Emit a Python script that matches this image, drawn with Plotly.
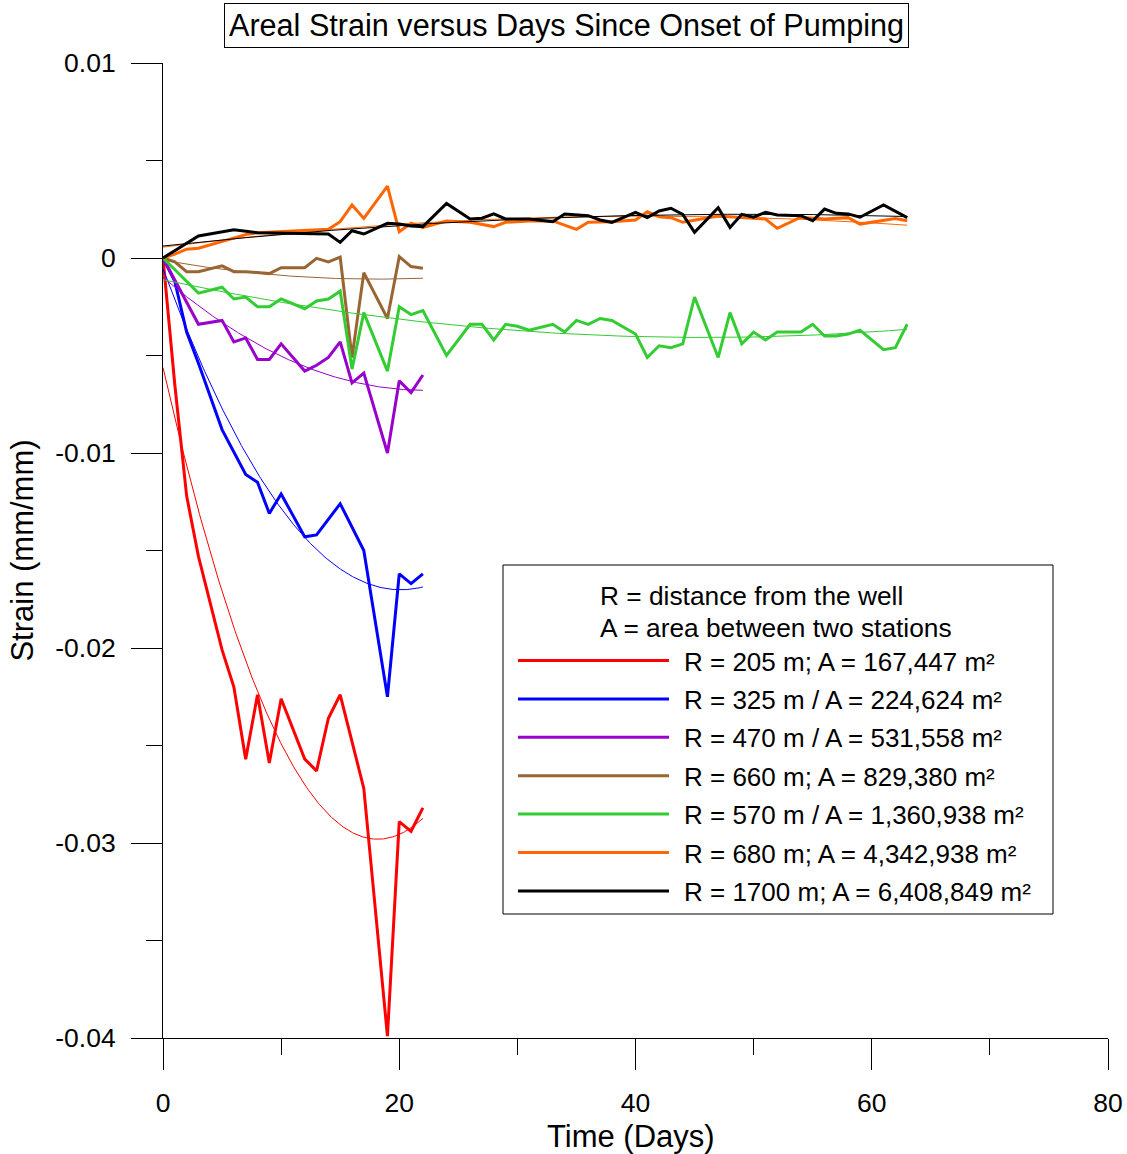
import numpy as np
import plotly.graph_objects as go

# ---- Areal strain records (mm/mm) by days since pumping began ----
red_days = [0, 1, 2, 3, 5, 6, 7, 8, 9, 10, 12, 13, 14, 15, 17, 19, 20, 21, 22]
red_strain = [0, -0.0065, -0.0122, -0.0153, -0.0201, -0.0220, -0.0257, -0.0224, -0.0259, -0.0226,
              -0.0257, -0.0263, -0.0236, -0.0224, -0.0272, -0.0399, -0.0289, -0.0294, -0.0282]

blue_days = [0, 1, 2, 3, 5, 7, 8, 9, 10, 12, 13, 15, 17, 19, 20, 21, 22]
blue_strain = [0, -0.0012, -0.0038, -0.0054, -0.0088, -0.0111, -0.0115, -0.0131, -0.0121,
               -0.0143, -0.0142, -0.0126, -0.0150, -0.0225, -0.0162, -0.0167, -0.0162]

purple_days = [0, 3, 5, 6, 7, 8, 9, 10, 12, 13, 14, 15, 16, 17, 19, 20, 21, 22]
purple_strain = [0, -0.0034, -0.0032, -0.0043, -0.0041, -0.0052, -0.0052, -0.0044, -0.0058,
                 -0.0055, -0.0051, -0.0043, -0.0064, -0.0059, -0.0100, -0.0063, -0.0069, -0.0060]

brown_days = [0, 1, 2, 3, 5, 6, 7, 9, 10, 12, 13, 14, 15, 16, 17, 19, 20, 21, 22]
brown_strain = [0, -0.0002, -0.0007, -0.0007, -0.0004, -0.0007, -0.0007, -0.0008, -0.0005,
                -0.0005, -0.00002, -0.0002, 0.00004, -0.0051, -0.00075, -0.0031, 0.00007,
                -0.00044, -0.00053]

green_days = [0, 1, 2, 3, 5, 6, 7, 8, 9, 10, 12, 13, 14, 15, 16, 17, 19, 20, 21, 22,
              24, 26, 27, 28, 29, 30, 31, 33, 34, 35, 36, 37, 38, 40, 41, 42, 43, 44, 45,
              47, 48, 49, 50, 51, 52, 54, 55, 56, 57, 58, 59, 61, 62, 63]
green_strain = [0, -0.0006, -0.0012, -0.0018, -0.0015, -0.0021, -0.0020, -0.0025, -0.0025, -0.0021,
                -0.0026, -0.0022, -0.0021, -0.0017, -0.0057, -0.0028,
                -0.0058, -0.0025, -0.0029, -0.0027,
                -0.0050, -0.0034, -0.0034, -0.0042, -0.0034, -0.0035, -0.0037,
                -0.0034, -0.0038, -0.0032, -0.0034, -0.0031, -0.0032,
                -0.0039, -0.0051, -0.0045, -0.0046, -0.0044, -0.0020,
                -0.0051, -0.0028, -0.0044, -0.0038, -0.0042, -0.0038,
                -0.0038, -0.0034, -0.0040, -0.0040, -0.0039, -0.0037,
                -0.0047, -0.0046, -0.0034]

orange_days = [0, 1, 2, 3, 7, 8, 14, 15, 16, 17, 19, 20, 21, 22, 24, 26, 28, 29, 31, 33, 35, 36,
               38, 40, 41, 42, 43, 44, 47, 49, 51, 52, 54, 56, 58, 59, 61, 62, 63]
orange_strain = [0, 0.0002, 0.00045, 0.0005, 0.0012, 0.0013,
                 0.00147, 0.00186, 0.00272, 0.00203,
                 0.00369, 0.00135, 0.00178, 0.00157,
                 0.0019, 0.00183, 0.00161, 0.00183, 0.0019, 0.0019, 0.00147, 0.00183, 0.00186,
                 0.00195, 0.00237, 0.00212, 0.00207, 0.00183,
                 0.00215, 0.00207, 0.0020, 0.00152, 0.00209, 0.0020, 0.00207, 0.00174,
                 0.00195, 0.00203, 0.00191]

black_days = [0, 3, 6, 8, 14, 15, 16, 17, 19, 20, 21, 22, 24, 26, 27, 28, 29, 31, 33, 34, 36, 37,
              38, 40, 41, 42, 43, 44, 45, 47, 48, 49, 50, 51, 52, 54, 55, 56, 57, 58, 59, 61, 63]
black_strain = [0, 0.00113, 0.00145, 0.0013,
                0.00123, 0.0008, 0.0014, 0.00123,
                0.00178, 0.00174, 0.00164, 0.00161,
                0.0028, 0.0020, 0.00204, 0.00226, 0.0020, 0.0020,
                0.00186, 0.00226, 0.00217, 0.00195, 0.00183,
                0.00234, 0.00207, 0.00241, 0.00255, 0.00224, 0.00132,
                0.00258, 0.00157, 0.00224, 0.00209, 0.00234, 0.00221,
                0.00217, 0.00191, 0.00251, 0.00229, 0.00226, 0.00209,
                0.00272, 0.00207]

station_labels = [
    "R = 205 m; A = 167,447 m²",
    "R = 325 m / A = 224,624 m²",
    "R = 470 m / A = 531,558 m²",
    "R = 660 m; A = 829,380 m²",
    "R = 570 m / A = 1,360,938 m²",
    "R = 680 m; A = 4,342,938 m²",
    "R = 1700 m; A = 6,408,849 m²",
]
legend_header = ["R = distance from the well", "A = area between two stations"]

x_ticks = [0, 20, 40, 60, 80]
y_ticks = [0.01, 0, -0.01, -0.02, -0.03, -0.04]
y_tick_text = ["0.01", "0", "-0.01", "-0.02", "-0.03", "-0.04"]

colors = ["#FF0000", "#0000FF", "#9900CC", "#996633", "#33CC33", "#FF6600", "#000000"]
records = [
    (red_days, red_strain),
    (blue_days, blue_strain),
    (purple_days, purple_strain),
    (brown_days, brown_strain),
    (green_days, green_strain),
    (orange_days, orange_strain),
    (black_days, black_strain),
]

FONT = "Liberation Sans, Arial, sans-serif"
W, H = 1127, 1154
L, R, T, B = 163, 1108, 63, 1038  # plot area in pixels


def px(x):
    return (x - L) / (R - L)


def py(y):
    return (B - y) / (B - T)


fig = go.Figure()

for (days, strain), color, label in zip(records, colors, station_labels):
    d = np.asarray(days, dtype=float)
    s = np.asarray(strain, dtype=float)
    # second-order polynomial trend through each station's record
    coef = np.polyfit(d, s, 2)
    tt = np.linspace(0, d.max(), 200)
    fig.add_trace(go.Scatter(x=d, y=s, mode="lines", line=dict(color=color, width=3),
                             name=label, showlegend=False))
    fig.add_trace(go.Scatter(x=tt, y=np.polyval(coef, tt), mode="lines",
                             line=dict(color=color, width=1), showlegend=False,
                             hoverinfo="skip"))

axis_common = dict(
    showline=True, linecolor="black", linewidth=1,
    ticks="outside", ticklen=31, tickwidth=1, tickcolor="black",
    showgrid=False, zeroline=False, automargin=False,
    tickfont=dict(family=FONT, size=26.5, color="black"),
)

fig.update_xaxes(
    range=[0, 80], tickvals=x_ticks, ticktext=[str(v) for v in x_ticks],
    minor=dict(ticks="outside", ticklen=16, tickwidth=1, tickcolor="black", dtick=10, tick0=0),
    ticklabelstandoff=10,
    **axis_common,
)
fig.update_yaxes(
    range=[-0.04, 0.01], tickvals=y_ticks, ticktext=y_tick_text,
    minor=dict(ticks="outside", ticklen=16, tickwidth=1, tickcolor="black", dtick=0.005, tick0=0),
    title=dict(text="Strain (mm/mm)", font=dict(family=FONT, size=31, color="black"), standoff=12),
    ticklabelstandoff=10,
    **axis_common,
)

annotations = [
    dict(text="Areal Strain versus Days Since Onset of Pumping", xref="paper", yref="paper",
         x=px(566), y=py(25.5), xanchor="center", yanchor="middle", showarrow=False,
         font=dict(family=FONT, size=30.6, color="black"),
         bordercolor="black", borderwidth=1, borderpad=4, bgcolor="white"),
    # x-axis title, centred under the tick labels
    dict(text="Time (Days)", xref="paper", yref="paper", x=px(630.5), y=py(1136),
         xanchor="center", yanchor="middle", showarrow=False,
         font=dict(family=FONT, size=31, color="black")),
]

shapes = [
    dict(type="rect", xref="paper", yref="paper", x0=px(503), x1=px(1053), y0=py(914), y1=py(565),
         line=dict(color="black", width=1), fillcolor="white", layer="above"),
]

for i, txt in enumerate(legend_header):
    annotations.append(dict(text=txt, xref="paper", yref="paper", x=px(597.5), y=py(596 + 32 * i),
                            xanchor="left", yanchor="middle", showarrow=False,
                            font=dict(family=FONT, size=26.3, color="black")))

for i, (label, color) in enumerate(zip(station_labels, colors)):
    yy = 660.5 + 38.4 * i
    shapes.append(dict(type="line", xref="paper", yref="paper", x0=px(518), x1=px(669),
                       y0=py(yy), y1=py(yy), line=dict(color=color, width=3), layer="above"))
    annotations.append(dict(text=label, xref="paper", yref="paper", x=px(682), y=py(yy + 1),
                            xanchor="left", yanchor="middle", showarrow=False,
                            font=dict(family=FONT, size=26, color="black")))

fig.update_layout(
    width=W, height=H,
    margin=dict(l=L, r=W - R, t=T, b=H - B, autoexpand=False),
    paper_bgcolor="white", plot_bgcolor="white",
    showlegend=False,
    annotations=annotations,
    shapes=shapes,
    font=dict(family=FONT, color="black"),
)

fig.write_html("out.html")
